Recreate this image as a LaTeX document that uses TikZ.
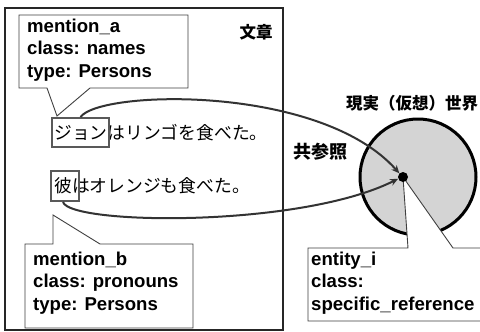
\documentclass[tikz,border=0pt]{standalone}
\usepackage{fontspec}
\setmainfont{Liberation Sans}
\newfontfamily\jp{Noto Sans CJK JP}
\usetikzlibrary{arrows.meta}
\begin{document}
\begin{tikzpicture}[x=1pt,y=-1pt,
  lbl/.style={font=\fontsize{18.6}{22.3}\selectfont\bfseries, align=left, anchor=north west, inner sep=0pt},
  callout/.style={draw=black!75, line width=0.9pt, fill=white},
  jtext/.style={font=\jp\fontsize{17.8}{17.8}\selectfont, inner sep=0pt, anchor=west},
  jlabel/.style={font=\jp\bfseries\fontsize{16.5}{16.5}\selectfont, inner sep=0pt},
  mbox/.style={draw=black!65, line width=2pt, inner sep=0pt},
  conn/.style={draw=black!80, line width=2pt, -{Stealth[length=8pt,width=7pt]}},
]
\useasboundingbox (0,0) rectangle (480,332);
\fill[white] (0,0) rectangle (480,332);
% document frame
\draw[line width=1.6pt, black!85] (5,8) rectangle (283,330);
\node[jlabel] (doc) at (256,32) {文章};
% world circle
\node[circle, draw=black, line width=3pt, fill=black!17, minimum size=116pt, inner sep=0pt] (world) at (418,177) {};
\node[jlabel] (worldlbl) at (412,103) {現実（仮想）世界};
\node[jlabel, font=\jp\bfseries\fontsize{18}{18}\selectfont] (coref) at (320,152) {共参照};
% entity callout
\coordinate (etip) at (403,177);
\draw[callout] (308,248) -- (408,248) -- (etip) -- (453,248) -- (485,248) -- (485,321) -- (308,321) -- cycle;
\node[circle, fill=black, minimum size=10pt, inner sep=0pt] (dot) at (etip) {};
\node[lbl] (ent) at (311,252) {entity\_i\\class:\\specific\_reference};
% mention_a callout
\coordinate (atip) at (57,116);
\draw[callout] (19,15) -- (188,15) -- (188,88) -- (90,88) -- (atip) -- (47,88) -- (19,88) -- cycle;
\node[lbl] (ma) at (27,19) {mention\_a\\class: names\\type: Persons};
% mention_b callout
\coordinate (btip) at (53,215);
\draw[callout] (25,244) -- (53,244) -- (btip) -- (100,244) -- (193,244) -- (193,328) -- (25,328) -- cycle;
\node[lbl] (mb) at (33,252) {mention\_b\\class: pronouns\\type: Persons};
% sentences
\node[jtext] (s1) at (54,132.5) {ジョンはリンゴを食べた。};
\node[jtext] (s2) at (54,186) {彼はオレンジも食べた。};
\node[mbox, minimum width=57pt, minimum height=29pt] (jbox) at (80.5,132.5) {};
\node[mbox, minimum width=28pt, minimum height=30pt] (kbox) at (65,186) {};
% coreference arrows
\draw[conn] (jbox.north) .. controls (100,90) and (320,84) .. (dot.135);
\draw[conn] ([xshift=-2pt]kbox.south) .. controls (70,225) and (300,228) .. (dot.200);
\end{tikzpicture}
\end{document}
